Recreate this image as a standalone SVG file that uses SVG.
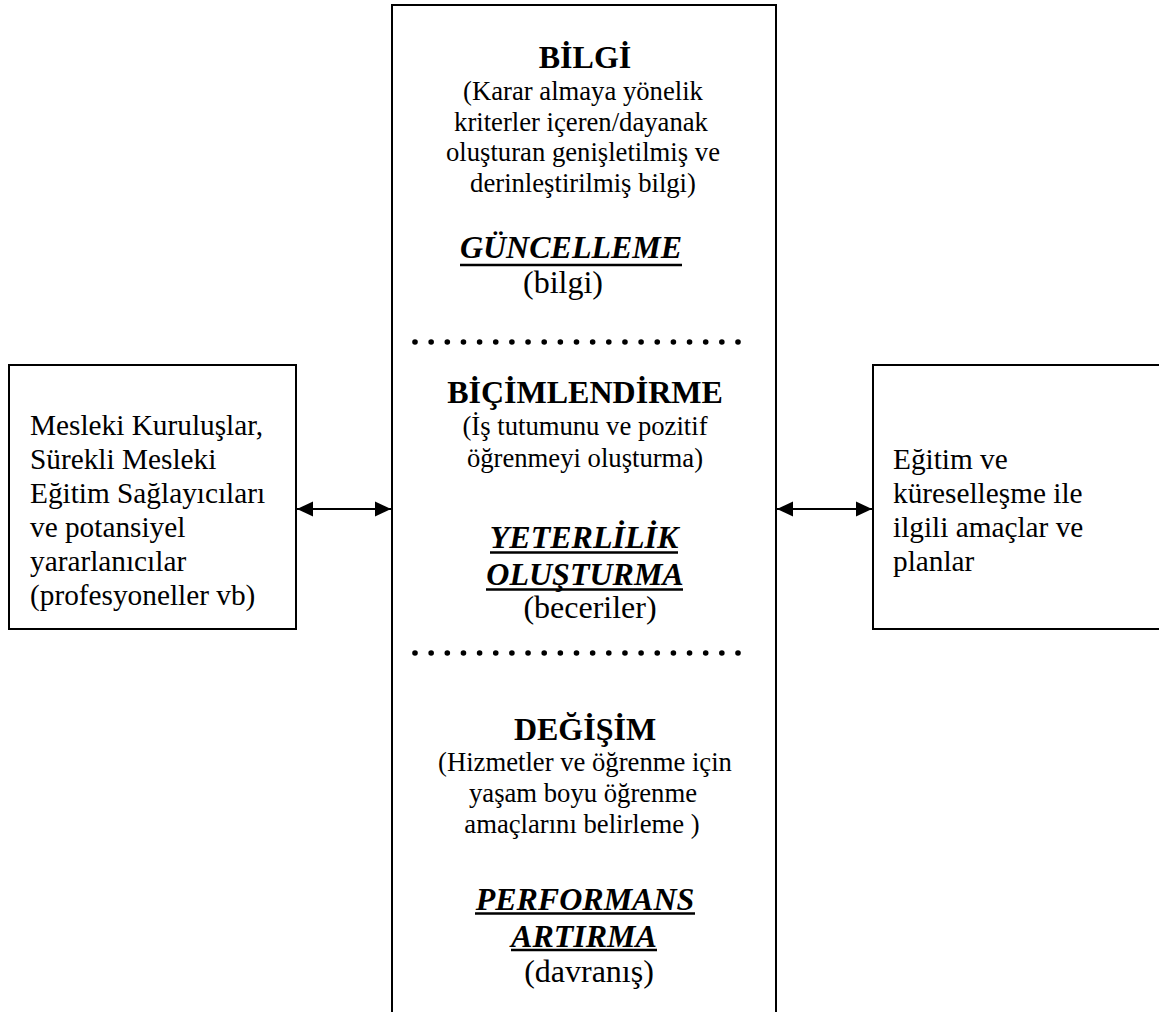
<svg xmlns="http://www.w3.org/2000/svg" width="1159" height="1012" viewBox="0 0 1159 1012">
  <style>
    .box { fill: #fff; stroke: #000; stroke-width: 2; }
    .t { font-family: "Liberation Serif", "Times New Roman", serif; fill: #000; }
    .title { font-size: 32px; font-weight: bold; text-anchor: middle; }
    .sub { font-size: 26.67px; text-anchor: middle; }
    .key { font-size: 32px; font-weight: bold; font-style: italic; text-anchor: middle; }
    .par { font-size: 32px; text-anchor: middle; }
    .side { font-size: 29.3px; }
    .ul { stroke: #000; stroke-width: 2.6; }
    .conn { stroke: #000; stroke-width: 2; fill: none; }
    .dot { fill: #000; }
  </style>
  <defs>
    <marker id="arrow" viewBox="0 0 16 16" refX="16" refY="8" markerWidth="16" markerHeight="16" markerUnits="userSpaceOnUse" orient="auto-start-reverse">
      <path d="M0,0.5 L16,8 L0,15.5 Z" fill="#000"/>
    </marker>
    <g id="dotrow">
      <circle class="dot" cx="415" cy="0" r="2.8"/>
      <circle class="dot" cx="431.15" cy="0" r="2.8"/>
      <circle class="dot" cx="447.3" cy="0" r="2.8"/>
      <circle class="dot" cx="463.45" cy="0" r="2.8"/>
      <circle class="dot" cx="479.6" cy="0" r="2.8"/>
      <circle class="dot" cx="495.75" cy="0" r="2.8"/>
      <circle class="dot" cx="511.9" cy="0" r="2.8"/>
      <circle class="dot" cx="528.05" cy="0" r="2.8"/>
      <circle class="dot" cx="544.2" cy="0" r="2.8"/>
      <circle class="dot" cx="560.35" cy="0" r="2.8"/>
      <circle class="dot" cx="576.5" cy="0" r="2.8"/>
      <circle class="dot" cx="592.65" cy="0" r="2.8"/>
      <circle class="dot" cx="608.8" cy="0" r="2.8"/>
      <circle class="dot" cx="624.95" cy="0" r="2.8"/>
      <circle class="dot" cx="641.1" cy="0" r="2.8"/>
      <circle class="dot" cx="657.25" cy="0" r="2.8"/>
      <circle class="dot" cx="673.4" cy="0" r="2.8"/>
      <circle class="dot" cx="689.55" cy="0" r="2.8"/>
      <circle class="dot" cx="705.7" cy="0" r="2.8"/>
      <circle class="dot" cx="721.85" cy="0" r="2.8"/>
      <circle class="dot" cx="738" cy="0" r="2.8"/>
    </g>
  </defs>

  <rect width="1159" height="1012" fill="#fff"/>

  <!-- central column: three stages separated by dotted rules -->
  <g id="center">
    <rect class="box" x="392" y="5" width="384" height="1030"/>

    <text class="t title" x="585" y="68">BİLGİ</text>
    <text class="t sub" x="583" y="100">(Karar almaya yönelik</text>
    <text class="t sub" x="581" y="131">kriterler içeren/dayanak</text>
    <text class="t sub" x="583" y="161">oluşturan genişletilmiş ve</text>
    <text class="t sub" x="583" y="192">derinleştirilmiş bilgi)</text>
    <text class="t key" x="571" y="258">GÜNCELLEME</text>
    <line class="ul" x1="460" y1="265" x2="682" y2="265"/>
    <text class="t par" x="563" y="293">(bilgi)</text>

    <use href="#dotrow" y="342"/>

    <text class="t title" x="585" y="403">BİÇİMLENDİRME</text>
    <text class="t sub" x="585" y="435">(İş tutumunu ve pozitif</text>
    <text class="t sub" x="585" y="467">öğrenmeyi oluşturma)</text>
    <text class="t key" x="584" y="548">YETERLİLİK</text>
    <line class="ul" x1="490" y1="552.5" x2="678" y2="552.5"/>
    <text class="t key" x="585" y="585">OLUŞTURMA</text>
    <line class="ul" x1="486" y1="589.5" x2="683" y2="589.5"/>
    <text class="t par" x="590" y="618">(beceriler)</text>

    <use href="#dotrow" y="653"/>

    <text class="t title" x="585" y="740">DEĞİŞİM</text>
    <text class="t sub" x="585" y="771">(Hizmetler ve öğrenme için</text>
    <text class="t sub" x="583" y="802">yaşam boyu öğrenme</text>
    <text class="t sub" x="582" y="833">amaçlarını belirleme )</text>
    <text class="t key" x="585" y="910">PERFORMANS</text>
    <line class="ul" x1="475" y1="913.5" x2="695" y2="913.5"/>
    <text class="t key" x="584" y="947">ARTIRMA</text>
    <line class="ul" x1="511" y1="950" x2="657" y2="950"/>
    <text class="t par" x="589" y="982">(davranış)</text>
  </g>

  <g id="left">
    <rect class="box" x="9" y="365" width="287" height="264"/>
    <text class="t side" x="30" y="435">Mesleki Kuruluşlar,</text>
    <text class="t side" x="30" y="469">Sürekli Mesleki</text>
    <text class="t side" x="30" y="503">Eğitim Sağlayıcıları</text>
    <text class="t side" x="30" y="537">ve potansiyel</text>
    <text class="t side" x="30" y="571">yararlanıcılar</text>
    <text class="t side" x="30" y="605">(profesyoneller vb)</text>
  </g>

  <g id="right">
    <rect class="box" x="873" y="365" width="300" height="264"/>
    <text class="t side" x="893" y="469">Eğitim ve</text>
    <text class="t side" x="893" y="503">küreselleşme ile</text>
    <text class="t side" x="893" y="537">ilgili amaçlar ve</text>
    <text class="t side" x="893" y="571">planlar</text>
  </g>

  <!-- two-way links between the side boxes and the central column -->
  <g id="connectors">
    <line class="conn" x1="297" y1="509" x2="391" y2="509" marker-start="url(#arrow)" marker-end="url(#arrow)"/>
    <line class="conn" x1="777" y1="509" x2="872" y2="509" marker-start="url(#arrow)" marker-end="url(#arrow)"/>
  </g>
</svg>
